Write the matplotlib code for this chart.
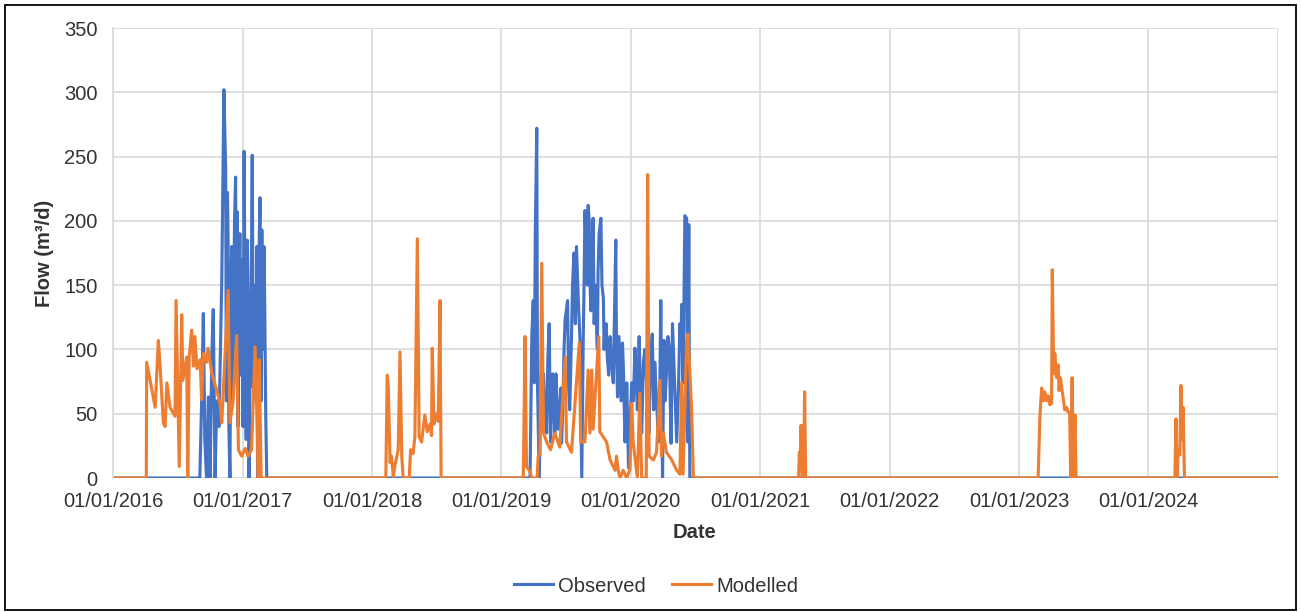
import pandas as pd
import matplotlib.pyplot as plt
from matplotlib.patches import Rectangle
from matplotlib.lines import Line2D

plt.rcParams['font.family'] = ['Liberation Sans', 'DejaVu Sans']

# days counted from 01/01/2016
START = pd.Timestamp('2016-01-01')
END = pd.Timestamp('2025-01-01')

# Observed flow (m3/d)
obs_2016_day = [245, 250, 255, 259, 264, 269, 274, 279, 283, 288, 293, 299, 307, 313, 318, 320, 323, 325, 327, 330,
                333, 335, 337, 340, 343, 346, 348, 351, 353, 356, 358, 361, 364, 367, 370, 373, 376, 379, 382, 384,
                386, 388, 391, 393, 396, 398, 401, 404, 406, 408, 411, 413, 415, 418, 420, 423, 426, 428, 431, 434]
obs_2016_val = [0, 58, 128, 30, 0, 63, 0, 97, 131, 0, 60, 40, 154, 302, 240, 60, 222, 180, 40, 0,
                150, 180, 60, 120, 200, 234, 100, 207, 40, 154, 190, 80, 170, 40, 254, 120, 30, 185, 90, 0,
                60, 120, 180, 251, 70, 150, 100, 60, 180, 0, 120, 190, 218, 60, 193, 100, 180, 140, 50, 0]

# (day, flow) pairs for 2019-2020
obs_2019 = [(1177, 0), (1182, 110), (1186, 138), (1189, 74), (1192, 193), (1196, 272), (1198, 74), (1203, 0),
            (1208, 80), (1211, 40), (1215, 81), (1219, 50), (1224, 35), (1227, 90), (1231, 120), (1235, 28),
            (1241, 81), (1244, 60), (1247, 35), (1250, 81), (1254, 55), (1257, 38), (1261, 53), (1264, 70),
            (1266, 27), (1270, 60), (1273, 100), (1276, 123), (1283, 138), (1286, 70), (1289, 53), (1294, 110),
            (1297, 150), (1301, 175), (1305, 120), (1308, 180), (1313, 140), (1318, 107), (1323, 0), (1327, 105),
            (1330, 160), (1332, 208), (1334, 190), (1337, 202), (1339, 150), (1341, 212), (1344, 200), (1346, 154),
            (1349, 130), (1351, 160), (1353, 180), (1355, 202), (1358, 120), (1360, 140), (1363, 150), (1365, 116),
            (1367, 100), (1369, 160), (1372, 190), (1377, 202), (1380, 150), (1384, 140), (1386, 100), (1388, 114),
            (1392, 120), (1395, 94), (1399, 80), (1403, 110), (1407, 90), (1412, 74), (1419, 185), (1421, 100),
            (1424, 63), (1428, 110), (1431, 85), (1434, 60), (1438, 105), (1441, 80), (1445, 28), (1448, 50),
            (1450, 74), (1455, 8), (1459, 40), (1464, 74), (1469, 60), (1473, 101), (1477, 80), (1480, 53),
            (1485, 110), (1489, 60), (1492, 35), (1497, 90), (1501, 100), (1506, 74), (1509, 50), (1513, 35),
            (1517, 90), (1522, 112), (1526, 53), (1529, 90), (1532, 72), (1536, 50), (1539, 28), (1543, 60),
            (1546, 138), (1551, 0), (1555, 107), (1558, 60), (1562, 81), (1566, 110), (1570, 101), (1575, 27),
            (1579, 120), (1583, 90), (1586, 66), (1591, 28), (1596, 70), (1600, 120), (1603, 100), (1605, 135),
            (1609, 74), (1612, 150), (1614, 204), (1619, 202), (1622, 28), (1625, 197), (1628, 0)]
obs_2019_day = [d for d, v in obs_2019]
obs_2019_val = [v for d, v in obs_2019]

# Modelled flow (m3/d)
mod_2016_day = [94, 95, 119, 128, 133, 142, 147, 152, 161, 175, 178, 187, 194, 197, 208, 211, 215, 222, 227, 231,
                237, 246, 250, 255, 264, 268, 279, 293, 302, 307, 325, 330, 339, 349, 354, 363, 373, 381, 391, 401,
                406, 410, 413, 418]
mod_2016_val = [0, 90, 55, 107, 87, 43, 40, 74, 55, 48, 138, 9, 127, 76, 94, 0, 94, 115, 87, 110,
                85, 92, 61, 97, 90, 101, 81, 68, 58, 43, 146, 43, 60, 111, 22, 17, 23, 17, 22, 102,
                53, 0, 92, 0]

mod_2018_day = [770, 774, 777, 782, 786, 791, 796, 805, 810, 815, 819, 836, 840, 847, 852, 859, 864, 871, 880, 887,
                895, 899, 901, 906, 913, 918, 923, 926]
mod_2018_val = [0, 80, 71, 12, 17, 1, 10, 22, 98, 17, 0, 0, 22, 19, 32, 186, 32, 28, 49, 36,
                42, 33, 101, 42, 50, 44, 138, 0]

mod_2019_day = [1158, 1163, 1167, 1177, 1182, 1197, 1200, 1205, 1210, 1215, 1224, 1235, 1247, 1261, 1276, 1280,
                1294, 1316, 1320, 1332, 1341, 1346, 1351, 1355, 1371, 1374, 1393, 1403, 1417, 1421, 1426, 1431,
                1440, 1450, 1459, 1464, 1468, 1480, 1487, 1492, 1505, 1509, 1513, 1525, 1534, 1544, 1548, 1553,
                1562, 1577, 1591, 1600, 1605, 1609, 1619, 1623, 1633, 1638]
mod_2019_val = [0, 110, 9, 5, 0, 0, 17, 18, 167, 35, 28, 22, 35, 24, 94, 28,
                20, 105, 28, 28, 84, 35, 84, 38, 110, 36, 28, 14, 6, 17, 6, 0,
                6, 0, 7, 58, 28, 0, 66, 0, 0, 236, 17, 14, 20, 76, 17, 35,
                20, 14, 6, 3, 74, 3, 107, 112, 53, 0]

mod_2021_day = [1935, 1937, 1940, 1942, 1945, 1949, 1952, 1955]
mod_2021_val = [0, 20, 20, 41, 0, 0, 67, 0]

mod_2023_day = [2611, 2616, 2621, 2626, 2630, 2635, 2639, 2644, 2649, 2651, 2655, 2658, 2663, 2668, 2670, 2674,
                2677, 2682, 2686, 2691, 2696, 2700, 2703, 2707, 2710, 2715, 2718]
mod_2023_val = [0, 48, 70, 60, 67, 60, 64, 57, 58, 162, 81, 97, 78, 88, 68, 78,
                71, 62, 53, 55, 51, 51, 0, 78, 0, 49, 0]

mod_2024_day = [2997, 3000, 3004, 3006, 3011, 3014, 3017, 3020, 3024]
mod_2024_val = [0, 46, 0, 22, 18, 72, 30, 55, 0]

last_day = (END - START).days

obs_day = [0] + obs_2016_day + obs_2019_day + [last_day]
obs_val = [0] + obs_2016_val + obs_2019_val + [0]
mod_day = [0] + mod_2016_day + mod_2018_day + mod_2019_day + mod_2021_day + mod_2023_day + mod_2024_day + [last_day]
mod_val = [0] + mod_2016_val + mod_2018_val + mod_2019_val + mod_2021_val + mod_2023_val + mod_2024_val + [0]

obs_dates = START + pd.to_timedelta(obs_day, unit='D')
mod_dates = START + pd.to_timedelta(mod_day, unit='D')

BLUE = '#4472C4'
ORANGE = '#ED7D31'
TXT = '#333333'
GRID = '#d9d9d9'
FS = 14.5

W, H = 1301, 612
fig = plt.figure(figsize=(W / 100, H / 100), dpi=100)
ax = fig.add_axes([113 / W, 1 - 478 / H, (1278 - 113) / W, (478 - 28) / H])

ax.plot(obs_dates, obs_val, color=BLUE, lw=2.25, label='Observed')
ax.plot(mod_dates, mod_val, color=ORANGE, lw=2.25, label='Modelled')

ax.set_xlim(START, END)
ax.set_ylim(0, 350)
ax.set_yticks(range(0, 351, 50))
years = pd.date_range('2016-01-01', '2025-01-01', freq='YS')
ax.set_xticks(years)
ax.set_xticklabels([d.strftime('%d/%m/%Y') for d in years[:-1]] + [''])

ax.grid(True, color=GRID, lw=1.2)
ax.set_axisbelow(True)
for s in ['top', 'right', 'bottom']:
    ax.spines[s].set_visible(False)
ax.spines['left'].set_color(GRID)
ax.spines['left'].set_linewidth(1.2)
ax.tick_params(axis='both', length=0, labelsize=FS, colors=TXT)
ax.tick_params(axis='y', pad=11)
ax.tick_params(axis='x', pad=10)

fig.text(45 / W, 1 - 253 / H, 'Flow (m³/d)', rotation=90, ha='center', va='center',
         fontsize=FS, fontweight='bold', color=TXT)
fig.text(695 / W, 1 - 533 / H, 'Date', ha='center', va='center',
         fontsize=FS, fontweight='bold', color=TXT)

handles = [Line2D([], [], color=BLUE, lw=2.25), Line2D([], [], color=ORANGE, lw=2.25)]
fig.legend(handles, ['Observed', 'Modelled'], loc='center', bbox_to_anchor=(656 / W, 1 - 586 / H),
           ncol=2, frameon=False, fontsize=FS, handlelength=1.95, handletextpad=0.25,
           columnspacing=1.3, labelcolor=TXT)

fig.patches.append(Rectangle((5 / W, 2 / H), (1296 - 5) / W, (607 - 2) / H, transform=fig.transFigure,
                             fill=False, edgecolor='black', lw=1.3))

fig.savefig('out.png', dpi=100)
